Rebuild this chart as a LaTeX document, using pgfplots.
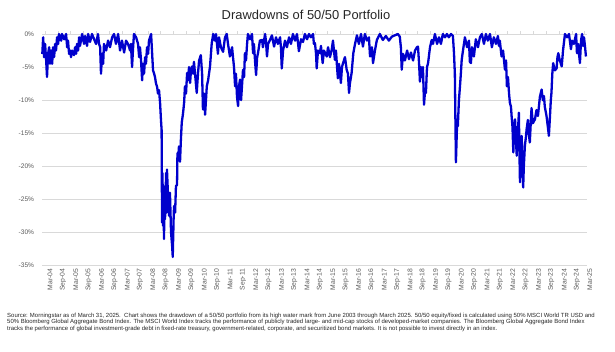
\documentclass[border=0pt]{standalone}
\usepackage{pgfplots}
\pgfplotsset{compat=1.18}
\usepackage{fontspec}
\setmainfont{Liberation Sans}
\definecolor{lineblue}{RGB}{0,0,204}
\definecolor{gridgray}{RGB}{217,217,217}
\definecolor{labgray}{RGB}{89,89,89}
\begin{document}
\begin{tikzpicture}[x=1bp,y=1bp]
\path[use as bounding box] (0,0) rectangle (615,351);
\begin{axis}[
 at={(42.3bp,85.5bp)}, anchor=south west, scale only axis,
 width=544.7bp, height=231.5bp,
 xmin=-1.3, xmax=253, ymin=-35, ymax=0,
 xtick={0,6,...,252},
 xticklabels={Mar-04,Sep-04,Mar-05,Sep-05,Mar-06,Sep-06,Mar-07,Sep-07,Mar-08,Sep-08,Mar-09,Sep-09,Mar-10,Sep-10,Mar-11,Sep-11,Mar-12,Sep-12,Mar-13,Sep-13,Mar-14,Sep-14,Mar-15,Sep-15,Mar-16,Sep-16,Mar-17,Sep-17,Mar-18,Sep-18,Mar-19,Sep-19,Mar-20,Sep-20,Mar-21,Sep-21,Mar-22,Sep-22,Mar-23,Sep-23,Mar-24,Sep-24,Mar-25},
 ytick={-35,-30,...,0},
 yticklabels={-35\%,-30\%,-25\%,-20\%,-15\%,-10\%,-5\%,0\%},
 ymajorgrids, grid style={gridgray, line width=1bp},
 axis line style={draw=none},
 ytick style={draw=none},
 xtick style={gridgray, line width=0.8bp},
 major tick length=3bp, tick align=outside,
 xtick pos=right, xticklabel pos=left,
 xticklabel style={rotate=90, anchor=east, inner sep=0pt, yshift=-5bp, font=\fontsize{6.8bp}{8bp}\selectfont, text=labgray},
 yticklabel style={anchor=east, inner sep=0pt, xshift=-5bp, font=\fontsize{6.6bp}{8bp}\selectfont, text=labgray},
 clip=false,
]
\addplot[lineblue, line width=2.3bp, line join=round] coordinates {
(-1.3,-3) (-0.9,-0.5) (-0.5,-3.5) (0,-1.5) (0.5,-4) (0.9,-6.5) (1.4,-3) (1.9,-2) (2.3,-4.5) (2.8,-2.5)
(3.3,-4.5) (3.7,-2) (4.2,-3.5) (4.7,-1.5) (5.1,-2.5) (5.6,-0.5) (6.1,-1.5) (6.5,0) (7.5,-1) (7.9,0)
(8.9,-0.8) (9.8,0) (10.3,-2) (10.7,-1) (11.2,-3) (11.7,-2.5) (12.1,-3.5) (12.6,-2.5) (13.5,-3.2) (14.0,-2)
(14.5,-3) (14.9,-1.5) (15.4,-2.5) (15.9,-0.5) (16.3,-1.8) (17.3,0) (18.2,-1.5) (18.7,-0.3) (19.6,-1.8) (20.1,0)
(21.0,-1.2) (21.9,0) (22.9,-0.8) (23.8,-1.5) (24.7,0) (25.2,-1.5) (25.7,-2) (26.1,-6) (26.6,-3) (27.1,-4.5)
(27.5,-1.5) (28.5,-2.5) (29.4,-1) (30.3,-2) (31.3,-0.5) (32.2,0) (33.1,-1.5) (34.1,0) (35.0,-2.5) (35.9,-1)
(36.9,-2.8) (37.8,-1) (38.7,-1.5) (39.7,-2.5) (40.1,-1.5) (40.6,-5) (41.1,-2) (41.5,0) (42.5,-0.5) (43.4,-1.5)
(43.9,-3.5) (44.3,-2) (44.8,-4) (45.3,-7) (45.7,-4.5) (46.2,-6) (46.7,-3.5) (47.1,-4.5) (47.6,-2) (48.1,-3)
(48.5,-1) (49.0,-0.5) (49.5,0) (49.9,-2.5) (50.4,-5.5) (50.9,-6) (51.3,-6.5) (51.8,-7.5) (52.3,-8) (52.7,-9)
(53.2,-8.5) (53.7,-10.5) (54.1,-13) (54.4,-14.5) (54.6,-28.5) (54.8,-21) (55.1,-29) (55.3,-23) (55.5,-31) (55.8,-25)
(56.0,-28) (56.5,-21) (56.7,-27) (56.9,-20.5) (57.4,-24.5) (57.9,-27.5) (58.3,-24) (58.8,-30) (59.3,-32) (59.6,-33.7)
(60.0,-28) (60.2,-26) (60.7,-27) (61.1,-23) (61.6,-22.8) (61.8,-18) (62.1,-19) (62.5,-17) (63.0,-19.3) (63.4,-16)
(63.8,-13.4) (64.4,-12) (64.9,-10.4) (65.3,-7.9) (65.8,-9) (66.3,-5.9) (66.7,-7) (67.2,-5) (67.7,-7.4) (68.1,-5.5)
(68.6,-4.9) (69.1,-6) (69.5,-4.2) (70.0,-6) (70.8,-8.9) (71.4,-5.9) (71.9,-4) (72.7,-3.2) (73.3,-6) (73.7,-11.4)
(74.2,-9) (74.7,-12.2) (75.5,-7.9) (76.1,-7) (77.0,-4.9) (77.8,-1.4) (78.5,0) (79.3,-1) (79.8,0) (80.7,-3)
(81.2,-0.5) (82.1,-2) (83.1,-2.7) (84.0,-0.5) (84.8,0) (85.4,-1.5) (86.3,-3.4) (87.3,-2) (87.7,-3.4) (88.2,-5)
(88.7,-7.9) (89.1,-6) (89.6,-9.5) (90.1,-10.9) (90.5,-8) (91.0,-6.9) (91.5,-10) (91.9,-8) (92.4,-5.4) (92.9,-6.5)
(93.3,-2.9) (93.8,-4) (94.3,-1.5) (94.7,0) (95.7,-0.8) (96.6,0) (97.1,-2.9) (97.5,-1.5) (98.0,-4) (98.5,-6.2)
(99.0,-3.5) (99.4,-2.9) (100.3,-1) (101.3,-0.9) (101.7,-2) (102.7,0) (103.1,-1) (103.6,-3.4) (104.1,-1.5) (105.0,-0.9)
(105.9,-0.2) (106.9,-1.9) (107.8,-0.5) (108.7,-1.5) (109.7,-0.5) (110.1,-2) (110.5,-5.2) (111.1,-2.5) (112.0,-1) (112.9,-2)
(113.9,-0.5) (114.8,-1.5) (115.7,0) (116.7,-1) (117.6,0) (118.5,-2.6) (119.5,-0.8) (120.4,-1.2) (121.3,0) (122.3,-0.8)
(123.2,0) (124.1,-0.5) (125.1,0) (125.5,-1.5) (126.0,-1.4) (126.5,-3) (126.8,-5.2) (127.4,-2.5) (128.3,-2.9) (128.8,-1.8)
(129.6,-4.4) (130.2,-2.5) (131.5,-3.4) (132.1,-2) (133.0,-3.5) (133.8,-2.4) (134.4,-1) (135.3,-3.9) (135.8,-2.5) (136.3,-5)
(136.7,-6.7) (137.2,-4.5) (137.7,-6) (138.1,-7.4) (138.6,-5) (139.1,-4.4) (140.0,-3.5) (140.8,-5.4) (141.4,-6) (141.9,-8.9)
(142.3,-7.5) (143.1,-5.9) (143.9,-2.9) (144.7,-1.5) (145.6,-0.2) (146.5,-1.5) (147.5,0) (148.4,-1.9) (149.3,0) (150.3,-1)
(151.2,-0.5) (151.7,-3.4) (152.6,-2) (153.1,-4.4) (154.0,-2.5) (154.9,-0.9) (156.3,0) (157.7,-0.9) (159.1,-0.3) (160.5,-1)
(161.9,-0.4) (163.3,-0.2) (164.7,0) (165.6,-0.4) (166.1,-2) (166.5,-5.4) (167.1,-3) (168.0,-4) (169.0,-2.5) (169.9,-3.8)
(170.8,-2.8) (171.8,-4) (172.7,-2.5) (173.6,-2) (174.1,-1.9) (174.6,-4.5) (175.0,-7.2) (175.5,-5) (176.0,-6.5) (176.4,-5)
(176.9,-10.7) (177.4,-8.5) (177.8,-8.9) (178.3,-5) (178.8,-4.4) (179.7,-2) (180.5,-0.9) (181.1,-1.5) (182.0,0) (183.0,-1.5)
(183.9,-0.5) (184.8,-1.5) (185.7,0) (186.7,-0.5) (187.6,0) (188.5,-0.5) (189.5,0) (190.4,-0.3) (190.9,-2.9) (191.3,-6)
(191.8,-19.4) (192.3,-14) (192.7,-13.9) (193.2,-10) (193.7,-7.9) (194.1,-6) (194.5,-3.9) (195.1,-2.5) (196.0,-0.5) (197.0,-2)
(197.9,-1) (198.3,-4.2) (198.8,-4.4) (199.3,-2) (200.2,-3.4) (201.1,-0.8) (202.1,-2) (203.0,-0.5) (203.9,0) (204.9,-1.5)
(205.8,0) (206.7,-1) (207.7,0) (208.6,-2) (209.5,-0.5) (210.5,-1.5) (211.4,-0.3) (211.9,-1.8) (212.3,-1) (213.1,-3.4)
(213.8,-2.5) (214.7,-5.4) (215.2,-4) (215.6,-7.9) (216.1,-6.5) (216.6,-9) (217.0,-10.4) (217.5,-11) (217.8,-12.4) (218.2,-14)
(218.6,-17.9) (218.9,-14) (219.4,-12.9) (219.8,-16) (220.2,-18.4) (220.5,-14) (220.7,-15) (221.2,-11.9) (221.4,-17) (221.7,-22.4)
(222.1,-18) (222.5,-15.4) (222.8,-19) (223.2,-23.2) (223.5,-20) (224.0,-16.9) (224.5,-15.5) (224.8,-14.4) (225.4,-13) (225.8,-15)
(226.3,-16.4) (226.8,-13) (227.1,-11.2) (227.7,-13.5) (228.7,-12.9) (229.4,-11.5) (230.1,-12.4) (231.0,-9.5) (231.8,-8.4) (232.4,-10)
(232.9,-9.4) (233.3,-11) (234.1,-12.4) (234.7,-14) (235.2,-15.4) (235.7,-12.5) (236.1,-10) (236.4,-8.9) (236.8,-6) (237.2,-4.4)
(238.0,-5.5) (238.8,-5.2) (239.2,-3.5) (239.6,-2.9) (240.3,-4) (241.2,-4.9) (241.8,-2.5) (242.7,0) (243.7,-0.5) (244.6,0)
(245.5,-2.3) (246.0,-1) (246.9,-1.5) (247.9,0) (248.3,-2.9) (248.8,-1.5) (249.7,-4.4) (250.2,-1) (250.7,0) (251.1,-1.8)
(251.6,-0.5) (252.1,-2) (252.5,-3.4)
};
\end{axis}
\node[font=\fontsize{12.9bp}{15bp}\selectfont, text=black!85] at (306,336) {Drawdowns of 50/50 Portfolio};
\begin{scope}[every node/.style={anchor=west, inner sep=0pt, font=\fontsize{5.97bp}{7bp}\selectfont, text=black!85}]
\node at (7,35.3) {Source: Morningstar as of March 31, 2025.\ \ Chart shows the drawdown of a 50/50 portfolio from its high water mark from June 2003 through March 2025. 50/50 equity/fixed is calculated using 50\% MSCI World TR USD and};
\node at (7,28.6) {50\% Bloomberg Global Aggregate Bond Index. The MSCI World Index tracks the performance of publicly traded large- and mid-cap stocks of developed-market companies. The Bloomberg Global Aggregate Bond Index};
\node at (7,22) {tracks the performance of global investment-grade debt in fixed-rate treasury, government-related, corporate, and securitized bond markets. It is not possible to invest directly in an index.};
\end{scope}
\end{tikzpicture}
\end{document}
